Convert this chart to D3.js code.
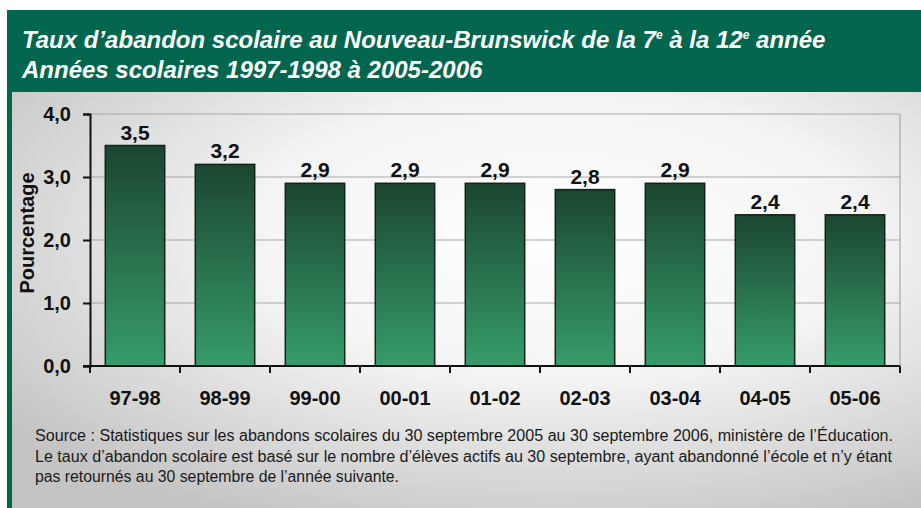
<!DOCTYPE html>
<html>
<head>
<meta charset="utf-8">
<script src="https://cdn.jsdelivr.net/npm/d3@7"></script>
<style>
  body { margin: 0; background: #fff; }
  svg { display: block; }
</style>
</head>
<body>
<svg id="chart" width="921" height="508"></svg>
<script>
var years = ["97-98", "98-99", "99-00", "00-01", "01-02", "02-03", "03-04", "04-05", "05-06"];
var rates = [3.5, 3.2, 2.9, 2.9, 2.9, 2.8, 2.9, 2.4, 2.4];
var yTicks = [0, 1, 2, 3, 4];
var titleLines = ["Taux d\u2019abandon scolaire au Nouveau-Brunswick de la 7", "Ann\u00e9es scolaires 1997-1998 \u00e0 2005-2006"];
var sourceLines = [
  "Source : Statistiques sur les abandons scolaires du 30 septembre 2005 au 30 septembre 2006, minist\u00e8re de l\u2019\u00c9ducation.",
  "Le taux d\u2019abandon scolaire est bas\u00e9 sur le nombre d\u2019\u00e9l\u00e8ves actifs au 30 septembre, ayant abandonn\u00e9 l\u2019\u00e9cole et n\u2019y \u00e9tant",
  "pas retourn\u00e9s au 30 septembre de l\u2019ann\u00e9e suivante."
];
var sourceWidths = [858, 857, 364];

var svg = d3.select("#chart");
var fmt = function(v) { return d3.format(".1f")(v).replace(".", ","); };
var font = "'Liberation Sans', Arial, sans-serif";

var defs = svg.append("defs");
var bg = defs.append("radialGradient").attr("id", "bg")
  .attr("cx", "60%").attr("cy", "35%").attr("r", "75%");
bg.append("stop").attr("offset", "0%").attr("stop-color", "#ffffff");
bg.append("stop").attr("offset", "45%").attr("stop-color", "#f4f4f4");
bg.append("stop").attr("offset", "100%").attr("stop-color", "#c4c4c4");

var barGrad = defs.append("linearGradient").attr("id", "bar")
  .attr("x1", 0).attr("y1", 0).attr("x2", 0).attr("y2", 1);
barGrad.append("stop").attr("offset", "0%").attr("stop-color", "#1b4630");
barGrad.append("stop").attr("offset", "100%").attr("stop-color", "#369c6b");

// frame
svg.append("rect").attr("x", 7).attr("y", 10).attr("width", 914).attr("height", 498).attr("fill", "#02664f");
svg.append("rect").attr("x", 12).attr("y", 92).attr("width", 909).attr("height", 416).attr("fill", "url(#bg)");

var title = svg.append("text")
  .attr("fill", "#fff")
  .style("font-family", font)
  .style("font-weight", "bold").style("font-style", "italic").style("font-size", "24px");
var t1 = title.append("tspan").attr("x", 22).attr("y", 48);
t1.append("tspan").text(titleLines[0]);
t1.append("tspan").attr("dy", -9).style("font-size", "12px").text("e");
t1.append("tspan").attr("dy", 9).text(" \u00e0 la 12");
t1.append("tspan").attr("dy", -9).style("font-size", "12px").text("e");
t1.append("tspan").attr("dy", 9).text(" ann\u00e9e");
title.append("tspan").attr("x", 22).attr("y", 78).text(titleLines[1]);

var margin = {top: 114, left: 90};
var width = 810, height = 252;
var x = d3.scaleBand().domain(years).range([0, width]).paddingInner(0.34).paddingOuter(0.17);
var y = d3.scaleLinear().domain([0, 4]).range([height, 0]);

var g = svg.append("g").attr("transform", "translate(" + margin.left + "," + margin.top + ")");

// grid and box
g.selectAll(".grid").data(yTicks.slice(1)).enter().append("line")
  .attr("x1", 0).attr("x2", width)
  .attr("y1", function(d) { return y(d); }).attr("y2", function(d) { return y(d); })
  .attr("stroke", "#a8a8a8").attr("stroke-width", 1.2);
g.append("line").attr("x1", width).attr("x2", width).attr("y1", 0).attr("y2", height)
  .attr("stroke", "#a8a8a8").attr("stroke-width", 1.2);

g.selectAll(".bar").data(rates).enter().append("rect")
  .attr("x", function(d, i) { return x(years[i]); })
  .attr("y", function(d) { return y(d); })
  .attr("width", x.bandwidth())
  .attr("height", function(d) { return height - y(d); })
  .attr("fill", "url(#bar)")
  .attr("stroke", "#15241b").attr("stroke-width", 1.5);

g.selectAll(".val").data(rates).enter().append("text")
  .attr("x", function(d, i) { return x(years[i]) + x.bandwidth() / 2; })
  .attr("y", function(d) { return y(d) - 6; })
  .attr("text-anchor", "middle")
  .style("font-family", font)
  .style("font-weight", "bold").style("font-size", "21px").attr("fill", "#111")
  .text(function(d) { return fmt(d); });

var yAxis = g.append("g")
  .call(d3.axisLeft(y).tickValues(yTicks).tickFormat(fmt).tickSize(7).tickPadding(12));
yAxis.select(".domain").attr("stroke", "#111").attr("stroke-width", 2);
yAxis.selectAll(".tick line").attr("stroke", "#111").attr("stroke-width", 2);
yAxis.selectAll("text")
  .style("font-family", font)
  .style("font-weight", "bold").style("font-size", "20px").attr("fill", "#111");

var xEdges = d3.scaleLinear().domain([0, years.length]).range([0, width]);
var xAxis = g.append("g").attr("transform", "translate(0," + height + ")");
xAxis.append("line").attr("x1", -7).attr("x2", width).attr("stroke", "#111").attr("stroke-width", 2);
xAxis.selectAll(".xt").data(d3.range(years.length + 1)).enter().append("line")
  .attr("x1", function(d) { return xEdges(d); }).attr("x2", function(d) { return xEdges(d); })
  .attr("y1", 0).attr("y2", 7).attr("stroke", "#111").attr("stroke-width", 2);
xAxis.selectAll(".xl").data(years).enter().append("text")
  .attr("x", function(d) { return x(d) + x.bandwidth() / 2; })
  .attr("y", 39)
  .attr("text-anchor", "middle")
  .style("font-family", font)
  .style("font-weight", "bold").style("font-size", "20px").attr("fill", "#111")
  .text(function(d) { return d; });

svg.append("text")
  .attr("transform", "translate(34,233) rotate(-90)")
  .attr("text-anchor", "middle")
  .style("font-family", font)
  .style("font-weight", "bold").style("font-size", "20px").attr("fill", "#111")
  .text("Pourcentage");

svg.selectAll(".src").data(sourceLines).enter().append("text")
  .attr("x", 35)
  .attr("y", function(d, i) { return 441 + i * 20.5; })
  .attr("textLength", function(d, i) { return sourceWidths[i]; })
  .attr("lengthAdjust", "spacingAndGlyphs")
  .style("font-family", font)
  .style("font-size", "16px").attr("fill", "#1a1a1a")
  .text(function(d) { return d; });
</script>
</body>
</html>
